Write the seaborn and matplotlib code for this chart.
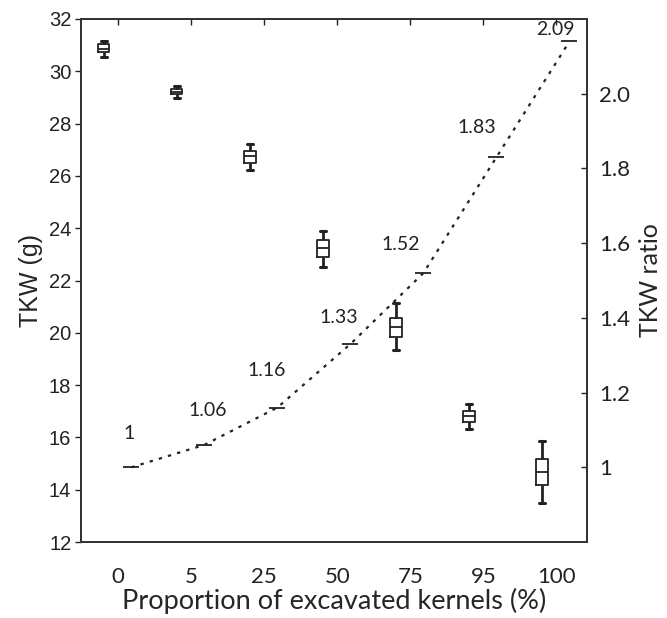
import numpy as np
import pandas as pd
import seaborn as sns
import matplotlib
matplotlib.use("Agg")
import matplotlib.pyplot as plt

# ---- data ----
categories = ["0", "5", "25", "50", "75", "95", "100"]
whisker_low = [30.55, 28.99, 26.22, 22.50, 19.33, 16.32, 13.50]
q1 = [30.72, 29.12, 26.49, 22.91, 19.83, 16.60, 14.17]
median = [30.87, 29.22, 26.76, 23.24, 20.22, 16.81, 14.69]
q3 = [31.03, 29.32, 26.94, 23.53, 20.58, 17.00, 15.18]
whisker_high = [31.17, 29.42, 27.22, 23.91, 21.14, 17.28, 15.85]
# plotted heights of the ratio markers as drawn in the picture
tkw_ratio = [1.00, 1.06, 1.16, 1.33, 1.52, 1.83, 2.14]
ratio_labels = ["1", "1.06", "1.16", "1.33", "1.52", "1.83", "2.09"]
left_ticks = list(range(12, 33, 2))
right_ticks = [1.0, 1.2, 1.4, 1.6, 1.8, 2.0]
right_tick_labels = ["1", "1.2", "1.4", "1.6", "1.8", "2.0"]

sns.set_theme(style="white")
plt.rcParams["font.family"] = ["Lato", "DejaVu Sans"]

# long-form table: 5 summary points per group reproduce the box exactly
rows = []
for i, cat in enumerate(categories):
    for v in (whisker_low[i], q1[i], median[i], q3[i], whisker_high[i]):
        rows.append({"pos": i - 0.2, "TKW": v})
box_df = pd.DataFrame(rows)
line_df = pd.DataFrame({"pos": np.arange(len(categories)) + 0.18, "ratio": tkw_ratio})

fig = plt.figure(figsize=(6.67, 6.18), dpi=100)
ax = fig.add_axes([81 / 667, 1 - 542 / 618, (587 - 81) / 667, (542 - 19) / 618])

sns.boxplot(data=box_df, x="pos", y="TKW", native_scale=True, width=0.16,
            whis=1.5, fill=False, color="#222222", linewidth=1.3,
            showfliers=False, ax=ax,
            whiskerprops=dict(linewidth=2.0),
            capprops=dict(linewidth=2.2),
            medianprops=dict(linewidth=1.3, color="#222222"))

ax.set_xlim(-0.51, 6.42)
ax.set_ylim(12, 32)
ax.set_yticks(left_ticks)
ax.set_yticklabels([str(v) for v in left_ticks], family="Liberation Sans", fontsize=14.5)
ax.set_xticks(np.arange(len(categories)))
ax.set_xticklabels(categories, fontsize=16)
ax.set_xlabel("Proportion of excavated kernels (%)", fontsize=19.5, labelpad=1)
ax.set_ylabel("TKW (g)", family="Liberation Sans", fontsize=18, labelpad=4)
ax.tick_params(axis="x", direction="in", length=4, width=1, top=True, pad=18, colors="#222222")
ax.tick_params(axis="y", direction="out", length=4, width=1, left=True, pad=3, colors="#222222")
for s in ax.spines.values():
    s.set_color("#333333")
    s.set_linewidth(1.3)

ax2 = ax.twinx()
sns.lineplot(data=line_df, x="pos", y="ratio", ax=ax2, color="#222222",
             linewidth=1.6, linestyle=(0, (1.5, 2.8)), marker="_",
             markersize=11, markeredgewidth=1.3, markeredgecolor="#222222")
ax2.set_ylim(0.8, 2.2)
ax2.set_yticks(right_ticks)
ax2.set_yticklabels(right_tick_labels, fontsize=16)
ax2.set_ylabel("TKW ratio", fontsize=18, labelpad=6)
ax2.tick_params(axis="y", direction="in", length=4, width=1, right=True, pad=9, colors="#222222")
ax2.set_xlim(-0.51, 6.42)
ax2.set_xlabel("")
for s in ax2.spines.values():
    s.set_color("#333333")
    s.set_linewidth(1.3)

offsets = [(-2, 34), (3, 34), (-11, 37), (-12, 27), (-23, 29), (-20, 30), (-14, 12)]
for i, (val, lab) in enumerate(zip(tkw_ratio, ratio_labels)):
    dx, dy = offsets[i]
    ax2.annotate(lab, (i + 0.18, val), xytext=(dx * 0.72, dy * 0.72),
                 textcoords="offset points", ha="center", va="center",
                 fontsize=14, color="#222222")

fig.savefig("out.png", dpi=100)
